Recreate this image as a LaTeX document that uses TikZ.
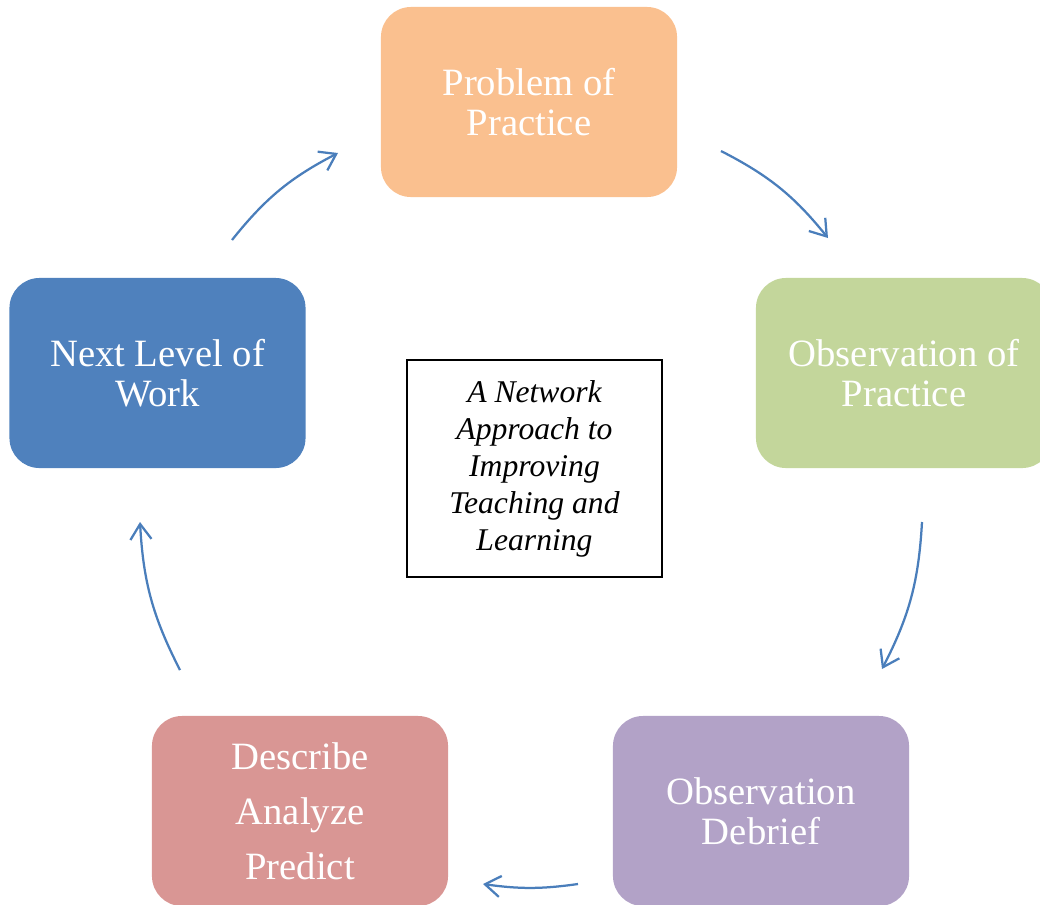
\documentclass[tikz,border=0pt]{standalone}
\usepackage{fontspec}
\setmainfont{Liberation Serif}
\definecolor{problem}{HTML}{FAC08F}
\definecolor{observation}{HTML}{C3D69B}
\definecolor{debrief}{HTML}{B2A2C7}
\definecolor{describe}{HTML}{D99694}
\definecolor{nextlevel}{HTML}{4F81BD}
\definecolor{arrowblue}{HTML}{4A7EBB}
\usetikzlibrary{arrows.meta}
\tikzstyle{base}=[x=0.025cm, y=-0.025cm]
\tikzstyle{stage}=[rounded corners=0.75cm, minimum width=7.4cm, minimum height=4.75cm, align=center, text=white, font=\fontsize{27.5}{28.5}\selectfont]
\tikzstyle{cycle}=[draw=arrowblue, line width=1.6pt, -{Straight Barb[length=11pt,width=15pt]}, bend left=12]

\begin{document}
\begin{tikzpicture}[base]
    \clip (0,0) rectangle (1040,904);
        \node [stage, fill=problem] (problem) at (529,102) {Problem of\\Practice};
        \node [stage, fill=observation] (observation) at (904,373) {Observation of\\Practice};
        \node [stage, fill=debrief] (debrief) at (761,811) {Observation\\Debrief};
        \node [stage, fill=describe] (describe) at (300,811) {Describe\\[10.5pt]Analyze\\[10.5pt]Predict};
        \node [stage, fill=nextlevel] (nextlevel) at (157.5,373) {Next Level of\\Work};
        \node [draw, line width=1pt, minimum width=6.375cm, minimum height=5.425cm, align=center, font=\fontsize{22.5}{26.3}\selectfont\itshape] (network) at (534.5,468.5) {A Network\\Approach to\\Improving\\Teaching and\\Learning};
        % free ends of the cycle arrows
        \coordinate (nextout) at (232,240);
        \coordinate (probin) at (338,153);
        \coordinate (probout) at (721,151);
        \coordinate (obsin) at (828,238);
        \coordinate (obsout) at (922,522);
        \coordinate (debin) at (882,669);
        \coordinate (debout) at (578,884);
        \coordinate (descin) at (483,884);
        \coordinate (descout) at (180,670);
        \coordinate (nextin) at (140,522);
        \draw [cycle] (nextout) to (probin);
        \draw [cycle] (probout) to (obsin);
        \draw [cycle] (obsout) to (debin);
        \draw [cycle, bend left=8] (debout) to (descin);
        \draw [cycle] (descout) to (nextin);
    \end{tikzpicture}
\end{document}
